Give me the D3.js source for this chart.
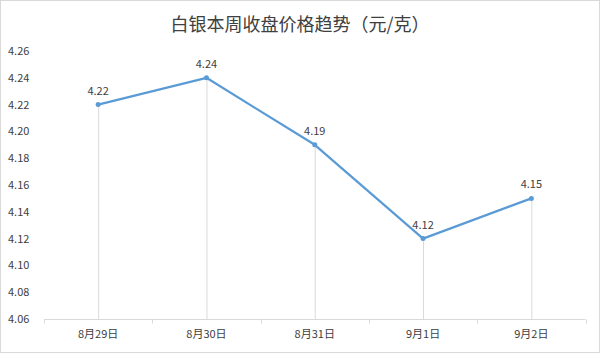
<!DOCTYPE html>
<html><head><meta charset="utf-8">
<script src="https://cdn.jsdelivr.net/npm/d3@7"></script>
<style>body{margin:0;background:#fff}svg{display:block}</style>
</head><body>
<svg id="c" width="600" height="353"></svg>
<script>
const title = "白银本周收盘价格趋势（元/克）";
const categories = ["8月29日", "8月30日", "8月31日", "9月1日", "9月2日"];
const values = [4.22, 4.24, 4.19, 4.12, 4.15];
const yTicks = [4.06, 4.08, 4.10, 4.12, 4.14, 4.16, 4.18, 4.20, 4.22, 4.24, 4.26];

(function(){
const svg = d3.select("#c");
const W = 600, H = 353;
const font = "'Microsoft YaHei','Noto Sans CJK SC','DejaVu Sans',sans-serif";
svg.append("rect").attr("x",0.5).attr("y",0.5).attr("width",W-1).attr("height",H-1)
  .attr("fill","#fff").attr("stroke","#d9d9d9");

const pL = 44, pR = 585.5, pT = 51, pB = 319;
const x = d3.scaleBand().domain(categories).range([pL, pR]);
const y = d3.scaleLinear().domain([4.06, 4.26]).range([pB, pT]);

svg.append("text").attr("x", 300).attr("y", 31).attr("text-anchor","middle")
  .attr("font-family", font).attr("font-size", 18).attr("fill","#404040").text(title);

svg.append("g").selectAll("text").data(yTicks).join("text")
  .attr("x", 8).attr("y", d => y(d) + 4)
  .attr("font-family", font).attr("font-size", 11).attr("fill","#404040")
  .text(d => d.toFixed(2));

svg.append("g").selectAll("line").data(values).join("line")
  .attr("x1",(d,i)=>x(categories[i])+x.bandwidth()/2+0.5)
  .attr("x2",(d,i)=>x(categories[i])+x.bandwidth()/2+0.5)
  .attr("y1", d=>y(d)).attr("y2", pB)
  .attr("stroke","#d9d9d9").attr("stroke-width",1);

const gx = svg.append("g").attr("transform",`translate(0,${pB+0.5})`);
gx.append("line").attr("x1",pL).attr("x2",pR).attr("stroke","#d9d9d9");
const bounds = categories.map(c=>x(c)).concat([pR]);
gx.selectAll("line.t").data(bounds).join("line").attr("class","t")
  .attr("x1",d=>Math.round(d)+0.5).attr("x2",d=>Math.round(d)+0.5).attr("y1",0).attr("y2",4)
  .attr("stroke","#d9d9d9");
gx.selectAll("text").data(categories).join("text")
  .attr("x", d=>x(d)+x.bandwidth()/2).attr("y", 18)
  .attr("text-anchor","middle").attr("font-family",font).attr("font-size",11).attr("fill","#404040")
  .text(d=>d);

const line = d3.line().x((d,i)=>x(categories[i])+x.bandwidth()/2).y(d=>y(d));
svg.append("path").datum(values).attr("d", line).attr("fill","none")
  .attr("stroke","#5b9bd5").attr("stroke-width",2.25).attr("stroke-linejoin","round");
svg.append("g").selectAll("circle").data(values).join("circle")
  .attr("cx",(d,i)=>x(categories[i])+x.bandwidth()/2).attr("cy",d=>y(d)).attr("r",2.5)
  .attr("fill","#5b9bd5");
svg.append("g").selectAll("text").data(values).join("text")
  .attr("x",(d,i)=>x(categories[i])+x.bandwidth()/2).attr("y",d=>y(d)-10)
  .attr("text-anchor","middle").attr("font-family",font).attr("font-size",11).attr("fill","#404040")
  .text(d=>d.toFixed(2));
})();
</script>
</body></html>
